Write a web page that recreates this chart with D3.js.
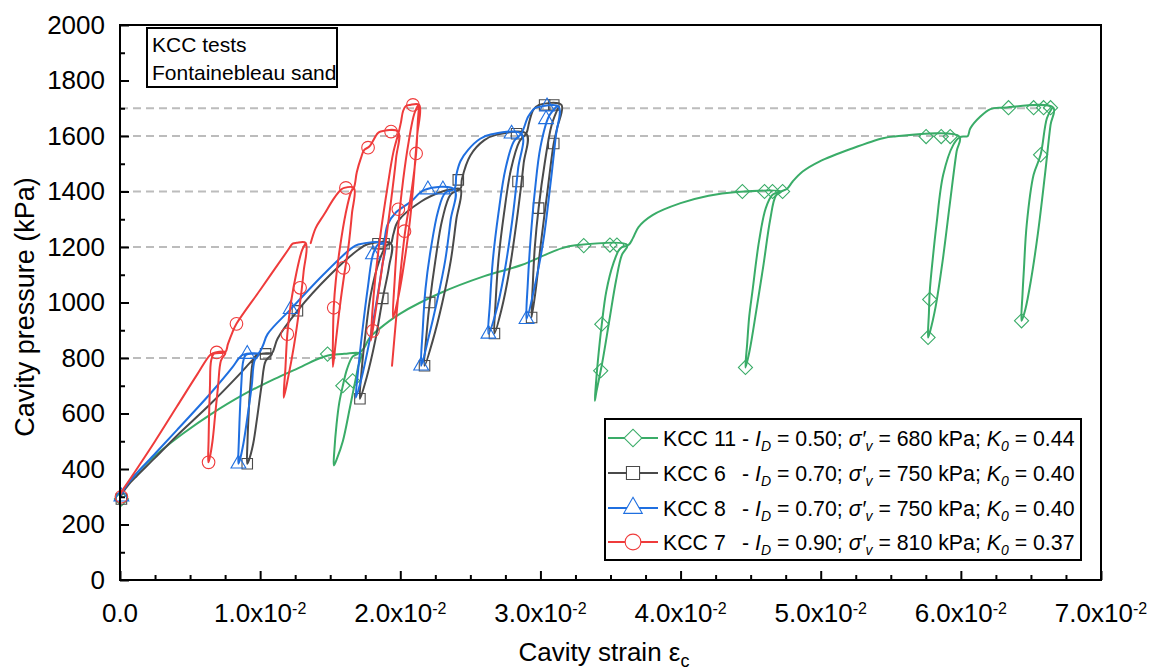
<!DOCTYPE html>
<html>
<head>
<meta charset="utf-8">
<script src="https://cdn.jsdelivr.net/npm/d3@7"></script>
<style>
  body { margin: 0; background: #fff; }
  svg text { font-family: "Liberation Sans", Arial, Helvetica, sans-serif; fill: #000; }
</style>
</head>
<body>
<svg id="chart" width="1152" height="670"></svg>
<script>
// Cavity strain values are stored in units of 1e-2, pressures in kPa.
const xTicks = [0, 1, 2, 3, 4, 5, 6, 7];
const xTickLabels = ["0.0", "1.0", "2.0", "3.0", "4.0", "5.0", "6.0", "7.0"];
const yTicks = [0, 200, 400, 600, 800, 1000, 1200, 1400, 1600, 1800, 2000];
const guideLevels = [800, 1200, 1400, 1600, 1700];
const guideEnds = [1.72, 3.55, 4.66, 5.95, 6.6];

const seriesNames = ["KCC 11", "KCC 6", "KCC 8", "KCC 7"];
const densityIndex = ["0.50", "0.70", "0.70", "0.90"];
const verticalStress = ["680", "750", "750", "810"];
const k0Values = ["0.44", "0.40", "0.40", "0.37"];

// KCC 11: loading, holds and unload-reload loops
const kcc11 = [
  [0.00,295],[0.02,320],[0.06,350],[0.12,385],[0.20,425],[0.29,465],[0.45,528],[0.65,598],[0.88,668],[1.10,724],[1.30,770],[1.42,798],[1.50,811],[1.60,815],[1.72,815],
  [1.70,770],[1.68,720],[1.64,620],[1.59,500],[1.55,440],[1.526,413],
  [1.53,470],[1.545,560],[1.565,640],[1.59,700],[1.62,760],[1.66,805],[1.70,816],
  [1.74,835],[1.78,872],[1.85,905],[2.00,960],[2.29,1035],[2.60,1095],[2.865,1135],[3.05,1175],[3.15,1195],[3.25,1206],[3.62,1207],
  [3.58,1170],[3.54,1080],[3.49,930],[3.44,780],[3.40,680],[3.388,646],
  [3.395,700],[3.41,790],[3.438,922],[3.47,1040],[3.52,1140],[3.57,1195],[3.63,1208],
  [3.66,1232],[3.70,1272],[3.80,1315],[4.00,1358],[4.20,1385],[4.40,1398],[4.72,1400],
  [4.68,1385],[4.64,1300],[4.59,1130],[4.54,970],[4.49,820],[4.463,766],
  [4.475,850],[4.49,950],[4.513,1041],[4.56,1221],[4.608,1340],[4.656,1388],[4.72,1401],
  [4.76,1410],[4.80,1436],[4.871,1472],[4.99,1508],[5.229,1556],[5.444,1592],[5.52,1598],[5.99,1598],
  [5.97,1545],[5.92,1350],[5.87,1150],[5.82,985],[5.78,895],[5.766,874],
  [5.772,960],[5.778,1040],[5.80,1160],[5.826,1281],[5.874,1460],[5.946,1568],[5.993,1596],[6.035,1598],
  [6.05,1600],[6.067,1627],[6.139,1670],[6.211,1697],[6.30,1702],[6.66,1702],
  [6.64,1640],[6.60,1460],[6.55,1250],[6.50,1080],[6.46,975],[6.433,934],
  [6.44,1030],[6.45,1120],[6.47,1281],[6.519,1460],[6.569,1532],[6.614,1664],[6.65,1700]
];
const kcc11Marks = [
  [0.01,292],[1.481,814],[1.59,700],[1.66,718],[3.309,1205],[3.496,1207],[3.546,1207],[3.438,922],[3.43,754],
  [4.441,1400],[4.599,1400],[4.656,1400],[4.728,1400],[4.463,766],
  [5.752,1598],[5.86,1598],[5.924,1598],[5.766,874],[5.778,1011],
  [6.34,1702],[6.519,1702],[6.59,1702],[6.64,1702],[6.433,934],[6.569,1532]
];

// KCC 6
const kcc6 = [
  [0.00,295],[0.02,315],[0.06,343],[0.12,375],[0.25,440],[0.406,520],[0.645,634],[0.85,740],[0.95,795],[0.99,812],[1.085,815],
  [1.04,790],[1.01,700],[0.98,590],[0.95,490],[0.92,432],[0.908,419],
  [0.91,500],[0.918,600],[0.93,700],[0.95,790],[0.975,812],[1.085,818],
  [1.10,835],[1.125,870],[1.266,970],[1.50,1100],[1.70,1190],[1.767,1210],[1.934,1212],
  [1.92,1130],[1.875,1015],[1.82,860],[1.76,730],[1.712,653],
  [1.725,760],[1.75,880],[1.79,1030],[1.85,1150],[1.90,1205],[1.934,1214],
  [1.95,1245],[1.984,1293],[2.149,1364],[2.30,1400],[2.36,1407],[2.43,1408],
  [2.40,1300],[2.36,1150],[2.30,1000],[2.23,860],[2.173,772],
  [2.19,900],[2.21,1000],[2.25,1150],[2.30,1300],[2.36,1390],[2.43,1410],
  [2.44,1445],[2.50,1530],[2.60,1585],[2.69,1605],[2.90,1608],
  [2.88,1500],[2.84,1330],[2.78,1120],[2.72,970],[2.672,888],
  [2.68,1000],[2.70,1150],[2.74,1320],[2.79,1480],[2.85,1580],[2.90,1610],
  [2.92,1650],[2.95,1695],[2.99,1712],[3.15,1712],
  [3.12,1630],[3.095,1573],[3.05,1400],[3.00,1200],[2.97,1060],[2.937,946],
  [2.945,1060],[2.96,1200],[2.987,1340],[3.03,1500],[3.08,1640],[3.13,1705]
];
const kcc6Marks = [
  [0.01,292],[1.039,815],[0.908,419],[1.266,970],[1.841,1212],[1.884,1212],[1.875,1015],[1.712,653],
  [2.414,1442],[2.21,1000],[2.173,772],[2.84,1436],[2.83,1608],[2.672,888],
  [3.03,1712],[3.095,1712],[3.095,1573],[2.987,1340],[2.937,946]
];

// KCC 8
const kcc8 = [
  [0.00,300],[0.02,320],[0.06,350],[0.12,385],[0.25,455],[0.406,540],[0.645,672],[0.80,765],[0.85,800],[0.88,812],[0.99,814],
  [0.96,790],[0.94,700],[0.91,590],[0.88,490],[0.855,432],[0.845,419],
  [0.848,500],[0.855,600],[0.865,700],[0.88,790],[0.90,812],[0.99,818],
  [1.02,845],[1.053,886],[1.218,976],[1.45,1100],[1.65,1195],[1.70,1209],[1.884,1211],
  [1.87,1130],[1.83,1000],[1.78,860],[1.72,720],[1.683,657],
  [1.70,760],[1.73,900],[1.77,1060],[1.805,1173],[1.84,1208],[1.884,1214],
  [1.89,1235],[1.91,1281],[1.97,1325],[2.077,1364],[2.173,1406],[2.387,1407],
  [2.36,1300],[2.32,1150],[2.26,1000],[2.20,870],[2.149,772],
  [2.16,900],[2.18,1050],[2.22,1200],[2.27,1330],[2.32,1395],[2.387,1410],
  [2.40,1460],[2.43,1510],[2.484,1550],[2.57,1590],[2.65,1606],[2.865,1608],
  [2.84,1480],[2.80,1300],[2.74,1100],[2.68,960],[2.629,887],
  [2.64,1000],[2.66,1150],[2.70,1320],[2.75,1480],[2.81,1580],[2.865,1610],
  [2.913,1670],[2.96,1700],[3.00,1706],[3.13,1706],
  [3.11,1600],[3.07,1420],[3.02,1220],[2.96,1060],[2.901,940],
  [2.91,1070],[2.93,1230],[2.96,1400],[3.00,1560],[3.06,1670],[3.12,1708]
];
const kcc8Marks = [
  [0.01,300],[0.908,814],[0.845,419],[1.218,976],[1.805,1173],[2.197,1407],[2.304,1407],[2.149,772],
  [2.629,887],[2.794,1608],[2.901,940],[3.047,1706],[3.04,1660]
];

// KCC 7 (null marks a gap in the record)
const kcc7 = [
  [0.00,305],[0.02,325],[0.06,355],[0.12,400],[0.25,500],[0.406,625],[0.55,740],[0.645,812],[0.68,820],[0.752,820],
  [0.72,790],[0.70,700],[0.68,600],[0.66,500],[0.64,440],[0.63,424],
  [0.632,500],[0.636,600],[0.642,700],[0.65,790],[0.67,815],[0.752,822],
  [0.77,850],[0.80,890],[0.831,923],[1.00,1045],[1.20,1190],[1.232,1212],[1.26,1215],[1.325,1215],
  [1.31,1110],[1.28,980],[1.24,840],[1.20,730],[1.168,657],
  [1.18,760],[1.194,886],[1.22,1000],[1.26,1110],[1.30,1190],[1.325,1213],
  null,
  [1.361,1214],[1.397,1269],[1.456,1317],[1.528,1376],[1.576,1406],[1.60,1413],[1.669,1413],
  [1.655,1320],[1.63,1200],[1.60,1100],[1.57,990],[1.54,860],[1.519,768],
  [1.52,880],[1.525,981],[1.54,1080],[1.57,1200],[1.61,1320],[1.65,1400],[1.67,1415],
  [1.69,1470],[1.719,1520],[1.743,1550],[1.779,1562],[1.839,1610],[1.86,1616],[1.984,1616],
  [1.97,1520],[1.93,1350],[1.88,1160],[1.83,990],[1.805,905],[1.79,862],
  [1.80,960],[1.82,1080],[1.86,1250],[1.91,1420],[1.95,1540],[1.99,1616],
  [2.005,1650],[2.02,1690],[2.04,1708],[2.07,1712],[2.135,1712],
  [2.12,1600],[2.10,1470],[2.07,1300],[2.03,1150],[1.99,1030],[1.948,944],
  [1.96,1080],[1.975,1200],[1.99,1300],[2.02,1440],[2.06,1580],[2.10,1680],[2.13,1712],
  [2.125,1650],[2.113,1537],[2.08,1400],[2.035,1257],[2.00,1100],[1.97,940],[1.941,772]
];
const kcc7Marks = [
  [0.01,300],[0.69,820],[0.831,923],[0.632,424],[1.285,1053],[1.194,886],[1.525,981],[1.595,1125],
  [1.612,1413],[1.77,1558],[1.934,1616],[1.805,898],[2.09,1712],[2.113,1537],[2.03,1257],[1.986,1336]
];

const seriesData = [kcc11, kcc6, kcc8, kcc7];
const seriesMarks = [kcc11Marks, kcc6Marks, kcc8Marks, kcc7Marks];

const styles = [
  { color: "#3aac68", symbol: "diamond" },
  { color: "#4a4a4a", symbol: "square" },
  { color: "#1f6fe0", symbol: "triangle" },
  { color: "#ef3b3b", symbol: "circle" }
];

const svg = d3.select("#chart");
const pL = 120, pR = 1101, pT = 25, pB = 580;
const x = d3.scaleLinear().domain([0, 7]).range([pL, pR]);
const y = d3.scaleLinear().domain([0, 2000]).range([pB, pT]);

function markerPath(kind, scale) {
  const s = scale || 1;
  if (kind === "diamond") return d3.symbol(d3.symbolSquare, 100 * s * s)();
  if (kind === "square") return d3.symbol(d3.symbolSquare, 110 * s * s)();
  if (kind === "triangle") return d3.symbol(d3.symbolTriangle, 95 * s * s)();
  return d3.symbol(d3.symbolCircle, 125 * s * s)();
}
function markerRotate(kind) { return kind === "diamond" ? " rotate(45)" : ""; }

// dashed reference levels
svg.append("g").selectAll("line").data(guideLevels).join("line")
  .attr("x1", x(0)).attr("x2", (d, i) => x(guideEnds[i]))
  .attr("y1", d => y(d)).attr("y2", d => y(d))
  .attr("stroke", "#bcbcbc").attr("stroke-width", 2).attr("stroke-dasharray", "8,5");

// curves
const line = d3.line()
  .defined(d => d !== null)
  .x(d => x(d[0])).y(d => y(d[1]))
  .curve(d3.curveCatmullRom.alpha(0.5));

const plot = svg.append("g");
seriesData.forEach((data, i) => {
  const st = styles[i];
  const g = plot.append("g");
  g.append("path").datum(data)
    .attr("d", line).attr("fill", "none")
    .attr("stroke", st.color).attr("stroke-width", 2)
    .attr("stroke-linejoin", "round").attr("stroke-linecap", "round");
  g.selectAll("path.mk").data(seriesMarks[i]).join("path")
    .attr("class", "mk")
    .attr("d", markerPath(st.symbol))
    .attr("transform", d => `translate(${x(d[0])},${y(d[1])})${markerRotate(st.symbol)}`)
    .attr("fill", "none").attr("stroke", st.color).attr("stroke-width", 1.1);
});

// axes with inward ticks
const xMinor = d3.range(0, 7.0001, 0.25).filter(v => Math.abs(v - Math.round(v)) > 1e-6);
const yMinor = d3.range(100, 2000, 200);

svg.append("g").attr("transform", `translate(0,${pB})`)
  .call(d3.axisBottom(x).tickValues(xMinor).tickSize(-5).tickFormat(""))
  .call(g => g.select(".domain").remove())
  .selectAll("line").attr("stroke", "#000").attr("stroke-width", 2);
svg.append("g").attr("transform", `translate(0,${pB})`)
  .call(d3.axisBottom(x).tickValues(xTicks).tickSize(-9).tickFormat(""))
  .call(g => g.select(".domain").remove())
  .selectAll("line").attr("stroke", "#000").attr("stroke-width", 2);

svg.append("g").attr("transform", `translate(${pL},0)`)
  .call(d3.axisLeft(y).tickValues(yMinor).tickSize(-5).tickFormat(""))
  .call(g => g.select(".domain").remove())
  .selectAll("line").attr("stroke", "#000").attr("stroke-width", 2);
const yAxis = svg.append("g").attr("transform", `translate(${pL},0)`)
  .call(d3.axisLeft(y).tickValues(yTicks).tickSize(-9).tickPadding(15).tickFormat(d3.format("d")));
yAxis.select(".domain").remove();
yAxis.selectAll("line").attr("stroke", "#000").attr("stroke-width", 2);
yAxis.selectAll("text").attr("font-size", 26).attr("fill", "#000")
  .style("font-family", '"Liberation Sans", Arial, sans-serif');

// x tick labels with power-of-ten notation
const xl = svg.append("g").selectAll("text").data(xTicks).join("text")
  .attr("x", d => x(d)).attr("y", 622)
  .attr("text-anchor", "middle").attr("font-size", 26);
xl.each(function (d, i) {
  const t = d3.select(this);
  if (d === 0) { t.text(xTickLabels[i]); return; }
  t.append("tspan").text(xTickLabels[i] + "x10");
  t.append("tspan").attr("font-size", 16).attr("dy", -8).text("-2");
});

// plot frame
svg.append("rect").attr("x", pL).attr("y", pT)
  .attr("width", pR - pL).attr("height", pB - pT)
  .attr("fill", "none").attr("stroke", "#000").attr("stroke-width", 2);

// axis titles
svg.append("text").attr("transform", `translate(34,307) rotate(-90)`)
  .attr("text-anchor", "middle").attr("font-size", 27).text("Cavity pressure (kPa)");
const xt = svg.append("text").attr("x", 604).attr("y", 661)
  .attr("text-anchor", "middle").attr("font-size", 26);
xt.append("tspan").text("Cavity strain ε");
xt.append("tspan").attr("font-size", 18).attr("dy", 6).text("c");

// note box
svg.append("rect").attr("x", 147).attr("y", 28).attr("width", 190).attr("height", 59)
  .attr("fill", "#fff").attr("stroke", "#000").attr("stroke-width", 2);
svg.append("text").attr("x", 152).attr("y", 52).attr("font-size", 21).text("KCC tests");
svg.append("text").attr("x", 152).attr("y", 80).attr("font-size", 21).text("Fontainebleau sand");

// legend
const legend = svg.append("g");
legend.append("rect").attr("x", 605).attr("y", 419).attr("width", 476).attr("height", 141)
  .attr("fill", "#fff").attr("stroke", "#000").attr("stroke-width", 2);
const rowY = [438, 473, 508, 542];
seriesNames.forEach((name, i) => {
  const st = styles[i];
  const cy = rowY[i];
  legend.append("line").attr("x1", 608).attr("x2", 658).attr("y1", cy).attr("y2", cy)
    .attr("stroke", st.color).attr("stroke-width", 2);
  legend.append("path").attr("d", markerPath(st.symbol, 1.25))
    .attr("transform", `translate(633,${cy})${markerRotate(st.symbol)}`)
    .attr("fill", "#fff").attr("stroke", st.color).attr("stroke-width", 1.1);
  const base = cy + 8;
  legend.append("text").attr("x", 663).attr("y", base).attr("font-size", 21.3).text(name);
  const t = legend.append("text").attr("x", 742).attr("y", base).attr("font-size", 21.3);
  t.append("tspan").text("- ");
  t.append("tspan").attr("font-style", "italic").text("I");
  t.append("tspan").attr("font-size", 14).attr("dy", 5).attr("font-style", "italic").text("D");
  t.append("tspan").attr("dy", -5).text(" = " + densityIndex[i] + "; ");
  t.append("tspan").attr("font-style", "italic").text("σ′");
  t.append("tspan").attr("font-size", 14).attr("dy", 5).attr("font-style", "italic").text("v");
  t.append("tspan").attr("dy", -5).text(" = " + verticalStress[i] + " kPa; ");
  t.append("tspan").attr("font-style", "italic").text("K");
  t.append("tspan").attr("font-size", 14).attr("dy", 5).attr("font-style", "italic").text("0");
  t.append("tspan").attr("dy", -5).text(" = " + k0Values[i]);
});
</script>
</body>
</html>
